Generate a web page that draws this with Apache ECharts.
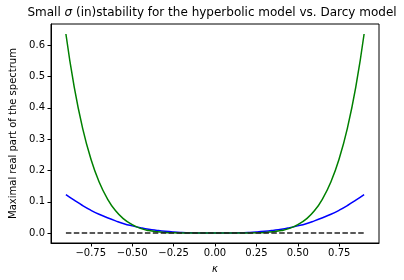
<!DOCTYPE html>
<html>
<head>
<meta charset="utf-8">
<script src="https://cdn.jsdelivr.net/npm/echarts@6/dist/echarts.min.js"></script>
<style>html,body{margin:0;padding:0;background:#fff}#c{width:404px;height:280px}</style>
</head>
<body>
<div id="c"></div>
<script>
var kappa = [-0.90,-0.85,-0.80,-0.75,-0.70,-0.65,-0.60,-0.55,-0.50,-0.45,-0.40,-0.35,-0.30,-0.25,-0.20,-0.15,-0.10,-0.05,0.00,
             0.05,0.10,0.15,0.20,0.25,0.30,0.35,0.40,0.45,0.50,0.55,0.60,0.65,0.70,0.75,0.80,0.85,0.90];
var hyperbolic = [0.636,0.467,0.337,0.238,0.164,0.110,0.071,0.0445,0.027,0.015,0.008,0.004,0.0017,0.0006,0.0002,0.0001,0,0,0,
                  0,0,0.0001,0.0002,0.0006,0.0017,0.004,0.008,0.015,0.027,0.0445,0.071,0.110,0.164,0.238,0.337,0.467,0.636];
var darcy = [0.123,0.105,0.088,0.073,0.060,0.049,0.039,0.030,0.023,0.017,0.012,0.0084,0.0054,0.0032,0.0017,0.0007,0.0002,0,0,
             0,0.0002,0.0007,0.0017,0.0032,0.0054,0.0084,0.012,0.017,0.023,0.030,0.039,0.049,0.060,0.073,0.088,0.105,0.123];
var zeroLine = [0,0,0,0,0,0,0,0,0,0,0,0,0,0,0,0,0,0,0,0,0,0,0,0,0,0,0,0,0,0,0,0,0,0,0,0,0];
var xTicks = [-0.75,-0.5,-0.25,0,0.25,0.5,0.75];
var yTicks = [0,0.1,0.2,0.3,0.4,0.5,0.6];

function pairs(xs, ys){ return xs.map(function(x,i){return [x, ys[i]];}); }
var font = 'DejaVu Sans';
var chart = echarts.init(document.getElementById('c'), null, {renderer:'canvas'});
chart.setOption({
  animation:false,
  backgroundColor:'#fff',
  graphic:[{
    type:'text', x:212, y:7,
    style:{
      text:'{n|Small }{i|σ}{n| (in)stability for the hyperbolic model vs. Darcy model}',
      align:'center', verticalAlign:'top',
      rich:{
        n:{fontFamily:font,fontSize:12,fontWeight:'normal',fill:'#000'},
        i:{fontFamily:font,fontSize:12,fontStyle:'italic',fontWeight:'normal',fill:'#000'}
      }
    }
  }],
  grid:{left:44,right:25,top:24,bottom:37,show:true,borderColor:'#000',borderWidth:1,containLabel:false},
  xAxis:{
    type:'value', min:-0.99, max:0.99,
    name:'κ', nameLocation:'middle', nameGap:21,
    nameTextStyle:{fontFamily:font,fontSize:10,fontStyle:'italic',color:'#000'},
    axisLine:{show:true,onZero:false,lineStyle:{color:'#000',width:1}},
    axisTick:{show:true,customValues:xTicks,length:3.5,lineStyle:{color:'#000'}},
    axisLabel:{customValues:xTicks,fontFamily:font,fontSize:10,color:'#000',margin:5,
      formatter:function(v){return (v<0?'\u2212':'')+Math.abs(v).toFixed(2);}},
    splitLine:{show:false}
  },
  yAxis:{
    type:'value', min:-0.0318, max:0.668,
    name:'Maximal real part of the spectrum', nameLocation:'middle', nameGap:33,
    nameTextStyle:{fontFamily:font,fontSize:10,color:'#000'},
    axisLine:{show:true,onZero:false,lineStyle:{color:'#000',width:1}},
    axisTick:{show:true,customValues:yTicks,length:3.5,lineStyle:{color:'#000'}},
    axisLabel:{customValues:yTicks,fontFamily:font,fontSize:10,color:'#000',margin:6,
      formatter:function(v){return v.toFixed(1);}},
    splitLine:{show:false}
  },
  series:[
    {type:'line',data:pairs(kappa,darcy),showSymbol:false,smooth:true,lineStyle:{color:'#0000ff',width:1.5},z:2},
    {type:'line',data:pairs(kappa,hyperbolic),showSymbol:false,smooth:true,lineStyle:{color:'#008000',width:1.5},z:3},
    {type:'line',data:pairs(kappa,zeroLine),showSymbol:false,lineStyle:{color:'#222',width:1.5,type:[5.5,2.4]},z:4}
  ]
});
</script>
</body>
</html>
